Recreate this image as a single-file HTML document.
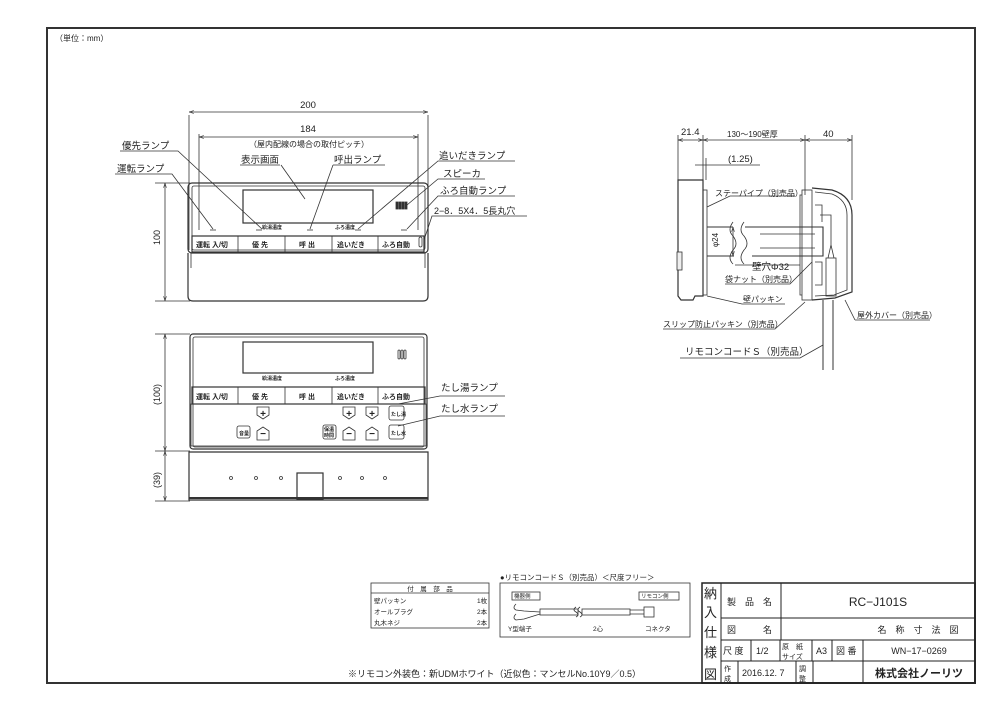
<!DOCTYPE html>
<html><head><meta charset="utf-8"><style>
html,body{margin:0;padding:0;background:#fff}
svg{display:block}
text{font-family:"Liberation Sans","Noto Sans CJK JP",sans-serif;fill:#222}
</style></head><body>
<svg width="1000" height="707" viewBox="0 0 1000 707" xmlns="http://www.w3.org/2000/svg">
<defs>
<marker id="a" viewBox="0 0 10 10" refX="10" refY="5" markerWidth="6" markerHeight="6" orient="auto-start-reverse"><path d="M0,2 L10,5 L0,8" fill="none" stroke="#333" stroke-width="1.2"/></marker>
</defs>
<g fill="none" stroke="#333" stroke-width="1">
<rect x="47" y="28" width="928" height="655" stroke-width="2"/>
</g>
<text x="55" y="41" font-size="8">（単位：mm）</text>

<!-- ===== Front view (top) ===== -->
<g fill="none" stroke="#333" stroke-width="0.8">
<line x1="189" y1="115" x2="189" y2="250"/><line x1="428" y1="115" x2="428" y2="250"/>
<line x1="189" y1="112" x2="428" y2="112" marker-start="url(#a)" marker-end="url(#a)"/>
<line x1="199" y1="134" x2="199" y2="230"/><line x1="418" y1="134" x2="418" y2="230"/>
<line x1="199" y1="137" x2="418" y2="137" marker-start="url(#a)" marker-end="url(#a)"/>
<line x1="155" y1="183" x2="190" y2="183"/><line x1="155" y1="301" x2="190" y2="301"/>
<line x1="165" y1="183" x2="165" y2="301" marker-start="url(#a)" marker-end="url(#a)"/>
<rect x="188" y="183" width="240" height="70" rx="4" stroke-width="1.2"/>
<rect x="192" y="186" width="233" height="64" rx="2"/>
<rect x="243" y="190" width="130" height="33" stroke-width="1.2"/>
<rect x="192" y="236" width="232" height="16" stroke-width="1.2"/>
<line x1="238" y1="236" x2="238" y2="252"/><line x1="285" y1="236" x2="285" y2="252"/>
<line x1="332" y1="236" x2="332" y2="252"/><line x1="378" y1="236" x2="378" y2="252"/>
<path d="M188,253 L188,296 Q188,301 193,301 L423,301 Q428,301 428,296 L428,253" stroke-width="1.2"/>
<path d="M191,253 L191,268 M425,253 L425,268"/>
<rect x="396" y="202" width="2" height="7" fill="#333"/><rect x="399" y="202" width="2" height="7" fill="#333"/><rect x="402" y="202" width="2" height="7" fill="#333"/><rect x="405" y="202" width="2" height="7" fill="#333"/>
<rect x="419" y="237" width="3" height="10" rx="1.5"/>
<line x1="210" y1="230" x2="216" y2="230"/><line x1="256" y1="230" x2="262" y2="230"/><line x1="307" y1="230" x2="313" y2="230"/><line x1="355" y1="230" x2="361" y2="230"/><line x1="401" y1="230" x2="407" y2="230"/>
<!-- leaders -->
<path d="M120,151 L178,151 L262,229"/>
<path d="M115,174 L172,174 L213,229"/>
<path d="M280,165 L240,165"/><path d="M281,165 L305,199"/>
<path d="M385,165 L333,165"/><path d="M333,165 L310,229"/>
<path d="M515,161 L438,161 L358,229"/>
<path d="M485,179 L438,179 L407,205"/>
<path d="M515,196 L438,196 L407,229"/>
<path d="M527,216 L432,216 L424,240"/>
</g>
<g font-size="9.5">
<text x="308" y="108" text-anchor="middle">200</text>
<text x="308" y="132" text-anchor="middle">184</text>
<text x="309" y="147" text-anchor="middle" font-size="8">（屋内配線の場合の取付ピッチ）</text>
<text x="160" y="245" font-size="9" transform="rotate(-90 160 245)">100</text>
<text x="122" y="149">優先ランプ</text>
<text x="117" y="172">運転ランプ</text>
<text x="241" y="163">表示画面</text>
<text x="334" y="163">呼出ランプ</text>
<text x="439" y="159">追いだきランプ</text>
<text x="443" y="177">スピーカ</text>
<text x="440" y="194">ふろ自動ランプ</text>
<text x="434" y="214" font-size="9">2−8．5X4．5長丸穴</text>
</g>
<g font-size="7" font-weight="bold">
<text x="196" y="247">運転 入/切</text><text x="252" y="247">優 先</text><text x="299" y="247">呼 出</text><text x="337" y="247">追いだき</text><text x="382" y="247">ふろ自動</text>
<text x="262" y="229" font-size="5">給湯温度</text><text x="335" y="229" font-size="5">ふろ温度</text>
</g>

<!-- ===== Front view open (bottom) ===== -->
<g fill="none" stroke="#333" stroke-width="0.8">
<line x1="155" y1="334" x2="190" y2="334"/><line x1="155" y1="451" x2="190" y2="451"/><line x1="155" y1="501" x2="190" y2="501"/>
<line x1="165" y1="334" x2="165" y2="451" marker-start="url(#a)" marker-end="url(#a)"/>
<line x1="165" y1="451" x2="165" y2="501" marker-start="url(#a)" marker-end="url(#a)"/>
<rect x="190" y="334" width="237" height="115" rx="3" stroke-width="1.2"/>
<rect x="193" y="337" width="231" height="110" rx="2"/>
<rect x="243" y="342" width="130" height="31" stroke-width="1.2"/>
<rect x="192" y="387" width="233" height="17" stroke-width="1.2"/>
<line x1="238" y1="387" x2="238" y2="404"/><line x1="285" y1="387" x2="285" y2="404"/><line x1="332" y1="387" x2="332" y2="404"/><line x1="378" y1="387" x2="378" y2="404"/>
<rect x="191" y="404" width="235" height="42"/>
<path d="M189,452 L428,452 L428,500 L189,500 Z" stroke-width="1.2"/>
<line x1="189" y1="498" x2="428" y2="498" stroke-width="2"/>
<rect x="297" y="473" width="26" height="26" stroke-width="1.2"/>
<rect x="398" y="350" width="2" height="9" rx="1"/><rect x="401" y="350" width="2" height="9" rx="1"/><rect x="404" y="350" width="2" height="9" rx="1"/>
<circle cx="231" cy="478" r="1.5"/><circle cx="256" cy="478" r="1.5"/><circle cx="281" cy="478" r="1.5"/><circle cx="340" cy="478" r="1.5"/><circle cx="362" cy="478" r="1.5"/><circle cx="385" cy="478" r="1.5"/>
<path d="M257,407 h12 v8 l-6,4 l-6,-4 z"/><path d="M257,440 h12 v-9 l-6,-4 l-6,4 z"/>
<path d="M343,407 h12 v8 l-6,4 l-6,-4 z"/><path d="M343,440 h12 v-9 l-6,-4 l-6,4 z"/>
<path d="M366,407 h12 v8 l-6,4 l-6,-4 z"/><path d="M366,440 h12 v-9 l-6,-4 l-6,4 z"/>
<rect x="237" y="426" width="13" height="12" rx="2"/><rect x="323" y="425" width="13" height="14" rx="2"/>
<rect x="389" y="406" width="15" height="14" rx="2"/><rect x="389" y="425" width="15" height="14" rx="2"/>
<path d="M398,404 L440,396 L505,396"/>
<path d="M398,426 L440,416 L505,416"/>
</g>
<g font-size="10" font-weight="bold" text-anchor="middle">
<text x="263" y="417">+</text><text x="263" y="437">−</text><text x="349" y="417">+</text><text x="349" y="437">−</text><text x="372" y="417">+</text><text x="372" y="437">−</text>
</g>
<g font-size="7" font-weight="bold">
<text x="196" y="399">運転 入/切</text><text x="252" y="399">優 先</text><text x="299" y="399">呼 出</text><text x="337" y="399">追いだき</text><text x="382" y="399">ふろ自動</text>
<text x="262" y="380" font-size="5">給湯温度</text><text x="335" y="380" font-size="5">ふろ温度</text>
<text x="239" y="435" font-size="5">音量</text><text x="324" y="431" font-size="5">保温</text><text x="324" y="437" font-size="5">時間</text>
<text x="391" y="416" font-size="5">たし湯</text><text x="391" y="435" font-size="5">たし水</text>
</g>
<g font-size="9.5">
<text x="160" y="405" font-size="9" transform="rotate(-90 160 405)">(100)</text>
<text x="160" y="488" font-size="9" transform="rotate(-90 160 488)">(39)</text>
<text x="441" y="391">たし湯ランプ</text>
<text x="441" y="412">たし水ランプ</text>
</g>

<!-- ===== Side view ===== -->
<g fill="none" stroke="#333" stroke-width="0.8">
<line x1="678" y1="135" x2="678" y2="180"/><line x1="703" y1="135" x2="703" y2="180"/>
<line x1="805" y1="135" x2="805" y2="195"/><line x1="852" y1="135" x2="852" y2="200"/>
<line x1="678" y1="140" x2="703" y2="140" marker-start="url(#a)" marker-end="url(#a)"/>
<line x1="703" y1="140" x2="805" y2="140" marker-start="url(#a)" marker-end="url(#a)"/>
<line x1="805" y1="140" x2="852" y2="140" marker-start="url(#a)" marker-end="url(#a)"/>
<line x1="706" y1="158" x2="706" y2="180"/>
<line x1="695" y1="165" x2="760" y2="165"/>
<path d="M678,180 L703,180 L703,296 L695,296 L693,300 L681,300 L678,296 Z" stroke-width="1.2"/>
<rect x="703" y="190" width="4" height="105"/>
<rect x="677" y="252" width="5" height="18" fill="#eee"/>
<path d="M707,227 L733,227 M707,256 L734,256 M745,227 L823,227 L823,256 L752,256" stroke-width="1.1"/>
<path d="M733,222 q-6,8 0,14 q6,8 0,14 q-6,8 0,14 M744,222 q-6,8 0,14 q6,8 0,14 q-6,8 0,14"/>
<path d="M760,234 L815,234 M760,248 L815,248"/>
<line x1="733" y1="227" x2="733" y2="256" marker-start="url(#a)" marker-end="url(#a)"/>
<rect x="802" y="190" width="10" height="110"/>
<path d="M802,195 h-2 v100 h2" />
<path d="M812,188 L832,190 Q852,196 852,215 L852,292 L835,298 L812,300" stroke-width="1.2"/>
<path d="M815,192 L832,194 Q847,200 847,215 L847,290 L834,295 L815,296"/>
<path d="M815,205 L822,205 L822,222 M815,262 L822,262 L822,285 L815,285"/>
<rect x="826" y="258" width="10" height="38"/>
<path d="M828,258 L831,245 L834,258 M831,245 L831,215 L820,215"/>
<path d="M823,300 L823,370 M833,300 L833,370" stroke-width="1"/>
<!-- leaders -->
<path d="M707,207 L730,196 L795,196"/>
<path d="M735,265 L800,265"/>
<path d="M725,284 L790,284 L812,262"/>
<path d="M707,296 L742,304 L785,304"/>
<path d="M663,329 L775,329 L805,302"/>
<path d="M680,358 L800,358 L823,345"/>
<path d="M855,320 L930,320 M855,320 L845,300"/>
</g>
<g font-size="9.5">
<text x="681" y="135">21.4</text>
<text x="727" y="137" font-size="8">130〜190壁厚</text>
<text x="823" y="137">40</text>
<text x="728" y="162">(1.25)</text>
<text x="715" y="196" font-size="8">ステーパイプ（別売品）</text>
<text x="718" y="247" font-size="8" transform="rotate(-90 718 247)">φ24</text>
<text x="752" y="270">壁穴Φ32</text>
<text x="725" y="282" font-size="8">袋ナット（別売品）</text>
<text x="743" y="302" font-size="8">壁パッキン</text>
<text x="663" y="327" font-size="8">スリップ防止パッキン（別売品）</text>
<text x="685" y="355">リモコンコードＳ（別売品）</text>
<text x="857" y="318" font-size="8">屋外カバー（別売品）</text>
</g>

<!-- ===== Parts table ===== -->
<g fill="none" stroke="#333" stroke-width="0.8">
<rect x="371" y="583" width="118" height="45"/>
<line x1="371" y1="593" x2="489" y2="593"/>
<rect x="500" y="583" width="190" height="54"/>
<rect x="512" y="592" width="28" height="8"/><rect x="639" y="592" width="40" height="8"/>
<path d="M516,604 q-4,4 0,6 l8,1 M516,614 q-4,4 0,6 l8,-1 M524,611 L540,612 M524,619 L540,614" />
<rect x="540" y="609" width="38" height="6"/>
<path d="M576,607 q-4,3 0,5 q4,3 0,5 M580,607 q-4,3 0,5 q4,3 0,5"/>
<rect x="582" y="609" width="48" height="6"/>
<path d="M630,610 L644,610 M630,614 L644,614"/><rect x="644" y="607" width="10" height="10"/>
</g>
<g font-size="6.5">
<text x="430" y="591" text-anchor="middle">付　属　部　品</text>
<text x="374" y="603">壁パッキン</text><text x="477" y="603">1枚</text>
<text x="374" y="614">オールプラグ</text><text x="477" y="614">2本</text>
<text x="374" y="625">丸木ネジ</text><text x="477" y="625">2本</text>
<text x="500" y="580" font-size="7.5">●リモコンコードＳ（別売品）＜尺度フリー＞</text>
<text x="514" y="598" font-size="5.5">機器側</text><text x="641" y="598" font-size="5.5">リモコン側</text>
<text x="508" y="631">Y型端子</text><text x="593" y="631">2心</text><text x="645" y="631">コネクタ</text>
<text x="348" y="677" font-size="9">※リモコン外装色：新UDMホワイト（近似色：マンセルNo.10Y9／0.5）</text>
</g>

<!-- ===== Title block ===== -->
<g fill="none" stroke="#222" stroke-width="1">
<rect x="702" y="583" width="273" height="100" stroke-width="1.5"/>
<line x1="721" y1="583" x2="721" y2="683"/>
<line x1="721" y1="618" x2="975" y2="618"/>
<line x1="721" y1="640" x2="975" y2="640"/>
<line x1="721" y1="661" x2="975" y2="661"/>
<line x1="781" y1="583" x2="781" y2="640"/>
<line x1="751" y1="640" x2="751" y2="661"/><line x1="780" y1="640" x2="780" y2="661"/><line x1="812" y1="640" x2="812" y2="661"/><line x1="832" y1="640" x2="832" y2="661"/><line x1="863" y1="640" x2="863" y2="683"/>
<line x1="738" y1="661" x2="738" y2="683"/><line x1="796" y1="661" x2="796" y2="683"/><line x1="813" y1="661" x2="813" y2="683"/>
</g>
<g font-size="9">
<text x="704" y="598" font-size="13">納</text><text x="704" y="617" font-size="13">入</text><text x="704" y="637" font-size="13">仕</text><text x="704" y="657" font-size="13">様</text><text x="704" y="679" font-size="13">図</text>
<text x="727" y="605">製　品　名</text>
<text x="878" y="606" font-size="12" text-anchor="middle">RC−J101S</text>
<text x="727" y="633">図　　　名</text>
<text x="918" y="633" text-anchor="middle">名　称　寸　法　図</text>
<text x="723" y="654">尺 度</text><text x="756" y="654">1/2</text>
<text x="782" y="649" font-size="7">原　紙</text><text x="782" y="659" font-size="7">サイズ</text>
<text x="816" y="654">A3</text><text x="836" y="654">図 番</text>
<text x="919" y="654" text-anchor="middle">WN−17−0269</text>
<text x="724" y="671" font-size="7">作</text><text x="724" y="681" font-size="7">成</text>
<text x="742" y="676">2016.12. 7</text>
<text x="799" y="671" font-size="7">調</text><text x="799" y="681" font-size="7">整</text>
<text x="919" y="677" font-size="11" font-weight="bold" text-anchor="middle">株式会社ノーリツ</text>
</g>
</svg>
</body></html>
